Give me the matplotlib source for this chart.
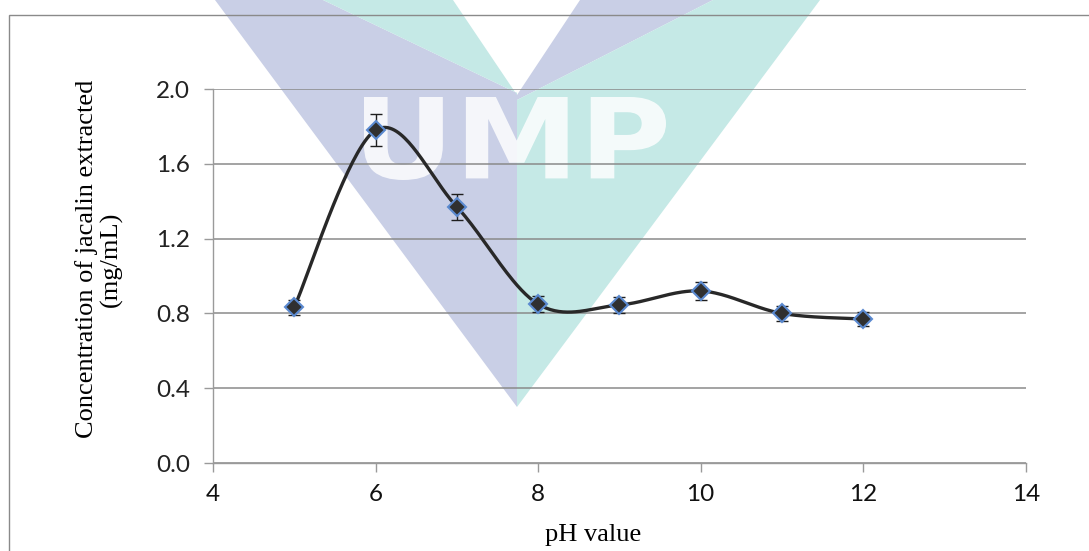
import numpy as np
import matplotlib
matplotlib.use('Agg')
import matplotlib.pyplot as plt
from matplotlib.patches import Polygon, Rectangle, PathPatch
from matplotlib.textpath import TextPath
from matplotlib.font_manager import FontProperties
from matplotlib.transforms import Affine2D

# ── Data ──────────────────────────────────────────────────────────────────────
ph = [5, 6, 7, 8, 9, 10, 11, 12]
conc = [0.833, 1.78, 1.37, 0.85, 0.845, 0.92, 0.80, 0.77]
err = [0.04, 0.087, 0.07, 0.045, 0.042, 0.046, 0.04, 0.035]
x_ticks = [4, 6, 8, 10, 12, 14]
y_ticks = [0.0, 0.4, 0.8, 1.2, 1.6, 2.0]

W, H = 1089, 551
GRID = '#8a8a8a'


def px(x, y):
    """pixel (from top-left) -> figure fraction"""
    return (x / W, 1 - y / H)


def excel_smooth(xs, ys, n=40):
    # Excel-style smoothed line: cubic Bezier, control points from neighbours / 6
    p = np.column_stack([xs, ys]).astype(float)
    p = np.vstack([p[0], p, p[-1]])
    out = []
    t = np.linspace(0, 1, n)[:, None]
    for i in range(1, len(p) - 2):
        p0, p1 = p[i], p[i + 1]
        c1 = p0 + (p[i + 1] - p[i - 1]) / 6
        c2 = p1 - (p[i + 2] - p[i]) / 6
        seg = ((1 - t) ** 3) * p0 + 3 * ((1 - t) ** 2) * t * c1 \
            + 3 * (1 - t) * t ** 2 * c2 + t ** 3 * p1
        out.append(seg if i == 1 else seg[1:])
    s = np.vstack(out)
    return s[:, 0], s[:, 1]


fig = plt.figure(figsize=(W / 100, H / 100), dpi=100)
fig.patch.set_facecolor('white')

# ── Watermark (UMP logo, behind the chart) ───────────────────────────────────
lav, teal = '#c9cfe6', '#c5e9e6'
shapes = [
    (lav,  [(215, 0), (323, 0), (517, 93), (517, 407)]),
    (teal, [(323, 0), (453, 0), (517, 95), (517, 93)]),
    (lav,  [(580, 0), (713, 0), (517, 100), (517, 95)]),
    (teal, [(713, 0), (820, 0), (517, 407), (517, 100)]),
]
for col, pts in shapes:
    fig.patches.append(Polygon([px(*q) for q in pts], closed=True,
                               transform=fig.transFigure, facecolor=col,
                               edgecolor='none', zorder=-2))

# "UMP" lettering, slightly stretched horizontally like the original logo
tp = TextPath((0, 0), 'UMP', size=100,
              prop=FontProperties(family='DejaVu Sans', weight='bold'))
bb = tp.get_extents()
sxw, syh = 302 / bb.width, 83 / bb.height
tr = Affine2D().translate(-bb.x0, -bb.y0).scale(sxw, syh).translate(364, H - 180)
fig.patches.append(PathPatch(tp, transform=tr, facecolor='white',
                             edgecolor='none', alpha=0.82, zorder=-1))

# outer chart frame (cropped at right / bottom)
fig.patches.append(Rectangle(px(9, 600), 1.2, (600 - 15) / H,
                             transform=fig.transFigure, fill=False,
                             edgecolor='#8a8a8a', lw=1.0, zorder=5))

# ── Axes ──────────────────────────────────────────────────────────────────────
ax = fig.add_axes([213 / W, 1 - 463 / H, (1025.7 - 213) / W, (463 - 89) / H])
ax.patch.set_visible(False)

sx, sy = excel_smooth(ph, conc)
ax.plot(sx, sy, color='#282828', lw=2.4, zorder=3, solid_capstyle='round')
ax.errorbar(ph, conc, yerr=err, fmt='none', ecolor='#1e1e1e', elinewidth=1.0,
            capsize=4.3, capthick=1.0, zorder=4)
ax.plot(ph, conc, ls='none', marker='D', ms=9, mfc='#303030',
        mec='#5b8ad0', mew=1.5, zorder=5)

ax.set_xlim(4, 14)
ax.set_ylim(0, 2.0)
ax.set_xticks(x_ticks)
ax.set_yticks(y_ticks)
ax.set_xticklabels([str(v) for v in x_ticks])
ax.set_yticklabels([f'{v:.1f}' for v in y_ticks])
ax.yaxis.grid(True, color=GRID, lw=1.1, zorder=1)
ax.set_axisbelow(True)

for s in ['top', 'right']:
    ax.spines[s].set_visible(False)
for s in ['left', 'bottom']:
    ax.spines[s].set_color('#9a9a9a')
    ax.spines[s].set_linewidth(1.0)

ax.tick_params(axis='y', length=6.5, width=1.0, color='#9a9a9a', pad=10,
               labelsize=17.5, labelcolor='#222222')
ax.tick_params(axis='x', length=6.2, width=1.0, color='#9a9a9a', pad=9,
               labelsize=17.5, labelcolor='#111111')
for lbl in ax.get_xticklabels() + ax.get_yticklabels():
    lbl.set_family('Lato')

fig.text(*px(99, 259), 'Concentration of jacalin extracted\n(mg/mL)',
         rotation=90, ha='center', va='center', multialignment='center',
         linespacing=1.15, fontsize=19, family='Liberation Serif')
fig.text(*px(593, 535), 'pH value', ha='center', va='center',
         fontsize=19, family='Liberation Serif')

fig.savefig('out.png', dpi=100, facecolor='white')
